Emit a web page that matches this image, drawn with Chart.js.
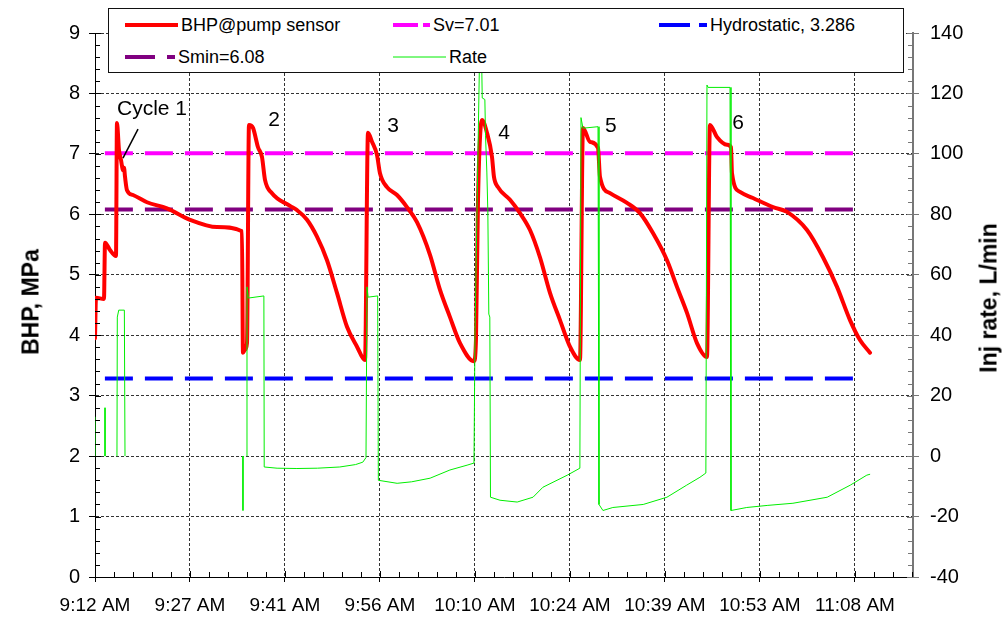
<!DOCTYPE html>
<html>
<head>
<meta charset="utf-8">
<script src="https://cdn.jsdelivr.net/npm/chart.js@4.4.1/dist/chart.umd.min.js"></script>
<style>
  html, body { margin: 0; padding: 0; background: #fff; }
  #wrap { position: relative; width: 1008px; height: 620px; font-family: 'Liberation Sans', Arial, sans-serif; color: #000; }
  #chart { position: absolute; left: 0; top: 0; }
  #legend { position: absolute; left: 108px; top: 8px; width: 796px; height: 65px; box-sizing: border-box; border: 1px solid #111; background: #fff; }
  .item { position: absolute; height: 22px; display: flex; align-items: center; font-size: 18px; white-space: nowrap; }
  .item svg { margin-right: 3px; }
  .axis-title { position: absolute; font-weight: bold; font-size: 23px; white-space: nowrap; transform: translate(-50%, -50%) rotate(-90deg); }
</style>
</head>
<body>
<div id="wrap">
  <canvas id="chart" width="1008" height="620"></canvas>
  <div id="legend"></div>
  <div class="axis-title" style="left:31px; top:302px;">BHP, MPa</div>
  <div class="axis-title" style="left:989px; top:298px;">Inj rate, L/min</div>
</div>
<script>
// minutes after 9:12 AM
const bhpTime = [0, 0.15, 1.36, 1.52, 2.27, 3.18, 3.33, 3.64, 3.94, 4.09, 4.24, 4.4, 4.55, 4.85, 5.76, 7.88, 10.91, 14.4, 18.49, 22.28,
  22.43, 22.74, 23.04, 23.34, 23.95, 24.71, 25.31, 25.77, 26.83, 29.56, 30.62, 32.14, 33.65, 35.17, 36.68, 38.2, 39.72, 40.93,
  41.38, 41.99, 42.75, 43.2, 44.26, 45.78, 47.29, 48.81, 50.78, 52.3, 53.81, 55.33, 57.45, 57.75, 58.06, 58.66, 59.42, 60.18,
  60.48, 61.09, 62.91, 64.42, 65.94, 67.45, 68.97, 70.49, 72.0, 73.52, 73.97, 75.03, 76.25, 76.55, 78.07, 80.64, 82.61, 84.58,
  86.71, 88.22, 89.74, 91.25, 92.77, 93.22, 94.28, 95.8, 96.41, 96.56, 97.77, 99.74, 102.77, 104.9, 107.93, 110.36, 112.48,
  114.45, 115.96, 117.48];
const bhpValue = [3.95, 4.62, 4.6, 5.53, 5.41, 5.31, 7.51, 7.06, 6.9, 6.8, 6.73, 6.77, 6.62, 6.4, 6.32, 6.2, 6.1, 5.91, 5.79, 5.72,
  3.71, 3.76, 3.87, 7.48, 7.43, 7.11, 6.95, 6.57, 6.35, 6.14, 6.07, 5.91, 5.63, 5.24, 4.70, 4.14, 3.81, 3.59,
  7.35, 7.2, 6.98, 6.68, 6.45, 6.32, 6.12, 5.87, 5.33, 4.75, 4.3, 3.87, 3.57, 3.92, 6.24, 7.56, 7.35, 6.95,
  6.62, 6.45, 6.24, 6.02, 5.74, 5.29, 4.70, 4.25, 3.81, 3.59, 7.43, 7.2, 7.1, 6.62, 6.35, 6.19, 6.02, 5.69,
  5.24, 4.8, 4.37, 3.87, 3.64, 7.48, 7.28, 7.15, 7.11, 6.68, 6.37, 6.27, 6.12, 6.04, 5.74, 5.29, 4.8,
  4.25, 3.92, 3.71];

const rateTime = [0, 0, 0.8, 1.52, 1.52, 2.4, 3.33, 3.38, 3.6, 4.45, 4.55, 13, 22.43, 22.43, 22.7, 23.04, 23.04, 23.25, 25.6, 25.65,
  27.6, 30.6, 33.7, 37.1, 39.5, 40.6, 41.08, 41.23, 41.4, 42.85, 42.95, 45.8, 48, 50.8, 53.8, 56.4, 57.45, 57.6, 58.3, 58.6,
  58.7, 59.1, 59.2, 59.4, 59.55, 59.7, 59.85, 59.95, 61.4, 64.0, 66.4, 67.9, 71.6, 73.5, 73.67, 73.97, 76.25, 76.4, 77.0, 78.5,
  83.1, 86.7, 89.7, 91.7, 92.6, 92.77, 92.93, 96.26, 96.41, 98.8, 102, 105.8, 111, 114.5, 117.0, 117.5];
const rateValue = [0, 13, null, 16, 0, null, 0, 46, 48.3, 48.3, 0, null, 0, -18, null, 0, 56, 52.3, 53, -3.6,
  -4, -4.1, -4, -3.6, -2.8, -2, -0.5, 56, 52.6, 53, -8, -9, -8.5, -7.3, -4.6, -3, -2.3, 40, 133, 133,
  118.5, 118, 106, 94, 81, 47, 46, -13.6, -14.6, -15.2, -13.6, -10.3, -6.3, -4, 112, 108.5, 109, -16, -18, -17,
  -16, -13.6, -9.6, -7, -5.6, 122.8, 122, 122, -18, -17, -16.3, -15.6, -13.6, -9.6, -6.3, -6];

const svLevel = 7.01;
const sminLevel = 6.08;
const hydroLevel = 3.286;
const refSpan = [1.5, 115.5];

const xTickLabels = ['9:12 AM', '9:27 AM', '9:41 AM', '9:56 AM', '10:10 AM', '10:24 AM', '10:39 AM', '10:53 AM', '11:08 AM'];
const xTickStep = 14.4;

const cycleLabels = [
  { text: 'Cycle 1', x: 8.64, y: 7.74 },
  { text: '2', x: 27.13, y: 7.56 },
  { text: '3', x: 45.17, y: 7.46 },
  { text: '4', x: 62.0, y: 7.35 },
  { text: '5', x: 78.2, y: 7.45 },
  { text: '6', x: 97.47, y: 7.5 }
];
const cycleArrow = [{ x: 6.52, y: 7.41 }, { x: 4.24, y: 6.93 }];

Chart.defaults.font.family = "'Liberation Sans', Arial, sans-serif";
Chart.defaults.color = '#000';

const pts = (xs, ys) => xs.map((x, i) => ({ x: x, y: ys[i] }));
const refLine = (v) => refSpan.map(x => ({ x: x, y: v }));

// tick marks inside the plot (major + minor)
const tickMarks = {
  id: 'tickMarks',
  afterDraw(chart) {
    const { ctx, chartArea: area, scales } = chart;
    ctx.save();
    ctx.lineWidth = 1;
    ctx.strokeStyle = '#000';
    ctx.beginPath();
    for (let i = 0; i <= 45; i++) {
      const py = Math.round(scales.y.getPixelForValue(i * 0.2)) + 0.5;
      ctx.moveTo(area.left, py);
      ctx.lineTo(area.left + (i % 5 ? 5 : 6), py);
    }
    const xMinor = xTickStep / 5;
    for (let i = 0; i * xMinor <= scales.x.max; i++) {
      const px = Math.round(scales.x.getPixelForValue(i * xMinor)) + 0.5;
      ctx.moveTo(px, area.bottom);
      ctx.lineTo(px, area.bottom - (i % 5 ? 5 : 6));
    }
    ctx.stroke();
    ctx.strokeStyle = '#777';
    ctx.beginPath();
    for (let i = 0; i <= 45; i++) {
      const py = Math.round(scales.y2.getPixelForValue(-40 + i * 4)) + 0.5;
      ctx.moveTo(area.right, py);
      ctx.lineTo(area.right - (i % 5 ? 5 : 6), py);
    }
    ctx.stroke();
    ctx.restore();
  }
};

const cycleText = {
  id: 'cycleText',
  afterDatasetsDraw(chart) {
    const { ctx, scales: { x, y } } = chart;
    ctx.save();
    ctx.fillStyle = '#000';
    ctx.font = "21px 'Liberation Sans', Arial, sans-serif";
    ctx.textAlign = 'center';
    ctx.textBaseline = 'middle';
    cycleLabels.forEach(l => ctx.fillText(l.text, x.getPixelForValue(l.x), y.getPixelForValue(l.y)));
    ctx.strokeStyle = '#000';
    ctx.lineWidth = 1.5;
    ctx.beginPath();
    ctx.moveTo(x.getPixelForValue(cycleArrow[0].x), y.getPixelForValue(cycleArrow[0].y));
    ctx.lineTo(x.getPixelForValue(cycleArrow[1].x), y.getPixelForValue(cycleArrow[1].y));
    ctx.stroke();
    ctx.restore();
  }
};

const gridColor = 'rgba(0,0,0,0.8)';

const chart = new Chart(document.getElementById('chart'), {
  type: 'line',
  data: {
    datasets: [
      {
        label: 'Rate',
        data: pts(rateTime, rateValue),
        yAxisID: 'y2',
        borderColor: '#00ee00',
        borderWidth: 1,
        order: 0
      },
      {
        label: 'BHP@pump sensor',
        data: pts(bhpTime, bhpValue),
        yAxisID: 'y',
        borderColor: '#ff0000',
        borderWidth: 4,
        borderJoinStyle: 'round',
        borderCapStyle: 'round',
        cubicInterpolationMode: 'monotone',
        order: 1
      },
      {
        label: 'Sv=7.01',
        data: refLine(svLevel),
        yAxisID: 'y',
        borderColor: '#ff00ff',
        borderWidth: 4,
        borderDash: [28, 12],
        order: 2
      },
      {
        label: 'Smin=6.08',
        data: refLine(sminLevel),
        yAxisID: 'y',
        borderColor: '#800080',
        borderWidth: 4,
        borderDash: [28, 12],
        order: 3
      },
      {
        label: 'Hydrostatic, 3.286',
        data: refLine(hydroLevel),
        yAxisID: 'y',
        borderColor: '#0000ff',
        borderWidth: 4,
        borderDash: [28, 12],
        order: 4
      }
    ]
  },
  options: {
    responsive: false,
    animation: false,
    elements: { point: { radius: 0 }, line: { tension: 0 } },
    layout: { padding: { top: 33, left: 0, right: 0, bottom: 0 } },
    plugins: { legend: { display: false }, tooltip: { enabled: false } },
    scales: {
      x: {
        type: 'linear',
        min: 0,
        max: 124,
        afterBuildTicks: s => { s.ticks = xTickLabels.map((_, i) => ({ value: i * xTickStep })); },
        afterFit: s => { s.height = 43; },
        ticks: { callback: (v, i) => xTickLabels[i], autoSkip: false, maxRotation: 0, font: { size: 19 }, padding: 12 },
        grid: { color: gridColor, tickColor: '#000', tickLength: 5 },
        border: { color: '#000', dash: [3, 2] }
      },
      y: {
        position: 'left',
        min: 0,
        max: 9,
        afterFit: s => { s.width = 95; },
        ticks: { stepSize: 1, font: { size: 20 }, padding: 9 },
        grid: { color: gridColor, tickColor: '#000', tickLength: 6 },
        border: { color: '#000', dash: [3, 2] }
      },
      y2: {
        position: 'right',
        min: -40,
        max: 140,
        afterFit: s => { s.width = 95; },
        ticks: { stepSize: 20, font: { size: 20 }, padding: 11 },
        grid: { drawOnChartArea: false, tickColor: '#777', tickLength: 6 },
        border: { color: '#777', width: 2 }
      }
    }
  },
  plugins: [tickMarks, cycleText]
});

// legend box, built from the dataset labels and colours: [left, middle y, sample width, dash]
const legendPlaces = {
  'BHP@pump sensor': [125, 25, 53, ''],
  'Sv=7.01': [393, 25, 37, '25 5'],
  'Hydrostatic, 3.286': [659, 25, 48, '31 9'],
  'Smin=6.08': [125, 57, 50, '30 12'],
  'Rate': [393, 57, 53, '']
};
const legend = document.getElementById('legend');
chart.data.datasets.forEach(ds => {
  const [lx, ly, w, dash] = legendPlaces[ds.label];
  const item = document.createElement('div');
  item.className = 'item';
  item.style.left = (lx - 109) + 'px';
  item.style.top = (ly - 9 - 11) + 'px';
  const dashAttr = dash ? 'stroke-dasharray="' + dash + '"' : '';
  item.innerHTML = '<svg width="' + w + '" height="8"><line x1="0" y1="4" x2="' + w + '" y2="4" stroke="' + ds.borderColor +
    '" stroke-width="' + ds.borderWidth + '" ' + dashAttr + '/></svg><span>' + ds.label + '</span>';
  legend.appendChild(item);
});
</script>
</body>
</html>
